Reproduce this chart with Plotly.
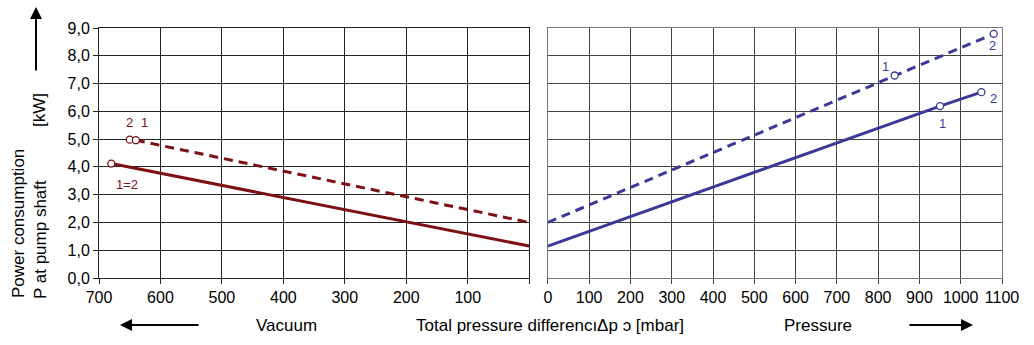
import plotly.graph_objects as go

# Vacuum side (left, x reversed)
vac_solid_x = [680, 0]
vac_solid_y = [4.12, 1.15]
vac_dash_x = [640, 0]
vac_dash_y = [4.96, 2.0]
vac_marker_x = [680, 650, 640]
vac_marker_y = [4.12, 4.98, 4.96]

# Pressure side (right)
pr_solid_x = [0, 950, 1050]
pr_solid_y = [1.15, 6.19, 6.69]
pr_dash_x = [0, 840, 1080]
pr_dash_y = [2.0, 7.29, 8.79]
pr_marker_x = [950, 1050, 840, 1080]
pr_marker_y = [6.19, 6.69, 7.29, 8.79]

y_ticks = [0, 1, 2, 3, 4, 5, 6, 7, 8, 9]
y_ticklabels = ["0,0", "1,0", "2,0", "3,0", "4,0", "5,0", "6,0", "7,0", "8,0", "9,0"]
vac_ticks = [700, 600, 500, 400, 300, 200, 100, 0]
vac_ticklabels = ["700", "600", "500", "400", "300", "200", "100", ""]
pr_ticks = [0, 100, 200, 300, 400, 500, 600, 700, 800, 900, 1000, 1100]

RED = "#7c1014"
BLUE = "#3b3a99"
FONT = "Liberation Sans, Arial, sans-serif"

fig = go.Figure()
fig.add_trace(go.Scatter(x=vac_solid_x, y=vac_solid_y, mode="lines",
                         line=dict(color=RED, width=3), xaxis="x", yaxis="y"))
fig.add_trace(go.Scatter(x=vac_dash_x, y=vac_dash_y, mode="lines",
                         line=dict(color=RED, width=3, dash="9px,6px"), xaxis="x", yaxis="y"))
fig.add_trace(go.Scatter(x=vac_marker_x, y=vac_marker_y, mode="markers",
                         marker=dict(symbol="circle", size=7, color="white",
                                     line=dict(color=RED, width=1.3)), xaxis="x", yaxis="y"))
fig.add_trace(go.Scatter(x=pr_solid_x, y=pr_solid_y, mode="lines",
                         line=dict(color=BLUE, width=3), xaxis="x2", yaxis="y2"))
fig.add_trace(go.Scatter(x=pr_dash_x, y=pr_dash_y, mode="lines",
                         line=dict(color=BLUE, width=3, dash="9px,6px"), xaxis="x2", yaxis="y2"))
fig.add_trace(go.Scatter(x=pr_marker_x, y=pr_marker_y, mode="markers",
                         marker=dict(symbol="circle", size=7, color="white",
                                     line=dict(color=BLUE, width=1.3)), xaxis="x2", yaxis="y2"))

axis_common = dict(showgrid=True, gridwidth=1, showline=True, mirror=True,
                   linewidth=1, zeroline=False, ticks="outside", ticklen=5,
                   tickfont=dict(size=16, color="black", family=FONT))

ML, MR, MT, MB = 99, 32, 28, 67
W, H = 1034, 345
PW, PH = W - ML - MR, H - MT - MB

fig.update_layout(
    width=W, height=H,
    margin=dict(l=ML, r=MR, t=MT, b=MB),
    paper_bgcolor="white", plot_bgcolor="white",
    showlegend=False,
    font=dict(family=FONT, color="black"),
    xaxis=dict(domain=[0, 0.4764], range=[700, 0], tickvals=vac_ticks,
               ticktext=vac_ticklabels, gridcolor="#222", linecolor="#222",
               tickcolor="#222", **axis_common),
    yaxis=dict(range=[0, 9], tickvals=y_ticks, ticktext=y_ticklabels,
               gridcolor="#222", linecolor="#222", tickcolor="#222",
               anchor="x", **axis_common),
    xaxis2=dict(domain=[0.4971, 1], range=[0, 1100], tickvals=pr_ticks,
                gridcolor="#444", linecolor="#777", tickcolor="#444",
                anchor="y2", **axis_common),
    yaxis2=dict(range=[0, 9], tickvals=y_ticks, showticklabels=False,
                gridcolor="#444", linecolor="#777", anchor="x2", ticks="",
                showgrid=True, showline=True, mirror=True, zeroline=False),
)

anns = [
    dict(x=650, y=5.6, text="2", xref="x", yref="y", color=RED),
    dict(x=626, y=5.6, text="1", xref="x", yref="y", color=RED),
    dict(x=654, y=3.35, text="1=2", xref="x", yref="y", color=RED),
    dict(x=819, y=7.6, text="1", xref="x2", yref="y2", color=BLUE),
    dict(x=1076, y=8.36, text="2", xref="x2", yref="y2", color=BLUE),
    dict(x=955, y=5.57, text="1", xref="x2", yref="y2", color=BLUE),
    dict(x=1079, y=6.45, text="2", xref="x2", yref="y2", color=BLUE),
]
for a in anns:
    fig.add_annotation(x=a["x"], y=a["y"], xref=a["xref"], yref=a["yref"],
                       text=a["text"], showarrow=False,
                       font=dict(size=13, color=a["color"], family=FONT))

def px(xp, yp):
    return (xp - ML) / PW, (H - MB - yp) / PH

for text, xp in [("Vacuum", 286), ("Total pressure differenc\u0131\u0394p \u0254 [mbar]", 550), ("Pressure", 818)]:
    xx, yy = px(xp, 325)
    fig.add_annotation(x=xx, y=yy, xref="paper", yref="paper", text=text,
                       showarrow=False, xanchor="center", yanchor="middle",
                       font=dict(size=17, color="black", family=FONT))

for text, xp, yp in [("Power consumption", 18, 224), ("P at pump shaft", 40, 240), ("[kW]", 40, 110)]:
    xx, yy = px(xp, yp)
    fig.add_annotation(x=xx, y=yy, xref="paper", yref="paper", text=text,
                       showarrow=False, textangle=-90, xanchor="center", yanchor="middle",
                       font=dict(size=17, color="black", family=FONT))

def arrow(x0, y0, x1, y1):
    ax1, ay1 = px(x1, y1)
    fig.add_annotation(x=ax1, y=ay1, ax=x0 - x1, ay=y0 - y1, xref="paper", yref="paper",
                       axref="pixel", ayref="pixel", text="", showarrow=True,
                       arrowhead=2, arrowsize=1.2, arrowwidth=2, arrowcolor="black")

arrow(200, 325, 120, 325)
arrow(908, 325, 973, 325)
arrow(36, 72, 36, 7)

fig.write_html("out.html")
